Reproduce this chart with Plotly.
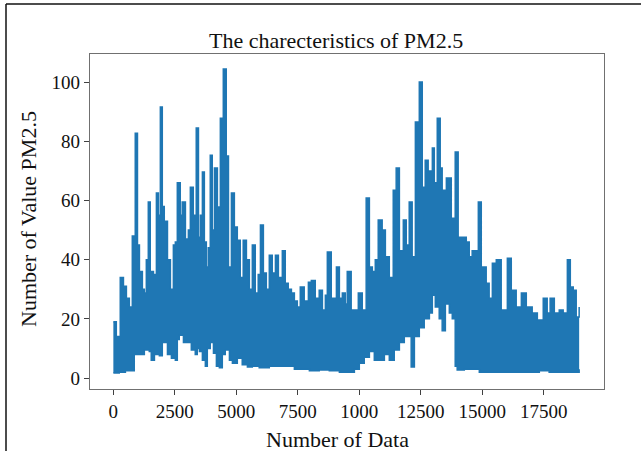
import plotly.graph_objects as go

# Readings from the picture: upper edge (peaks / band top) of the PM2.5 series
upper_idx = [0, 120, 280, 410, 530, 650, 770, 890, 980, 1060, 1180, 1260, 1340, 1420, 1500,
             1630, 1750, 1830, 1910, 1990, 2070, 2200, 2320, 2440, 2520, 2600, 2720, 2800,
             2930, 3050, 3130, 3250, 3370, 3460, 3540, 3620, 3700, 3780, 3860, 3940, 4020,
             4110, 4230, 4350, 4470, 4590, 4680, 4800, 4920, 5040, 5160, 5280, 5410, 5530,
             5650, 5770, 5890, 5980, 6100, 6220, 6340, 6460, 6590, 6710, 6870, 6990, 7110,
             7240, 7360, 7480, 7600, 7760, 7930, 8050, 8210, 8370, 8500, 8620, 8700, 8860,
             9070, 9190, 9310, 9430, 9510, 9670, 9800, 9960, 10120, 10280, 10410, 10530,
             10650, 10770, 10930, 11060, 11220, 11380, 11500, 11630, 11790, 11910, 12030,
             12150, 12280, 12440, 12560, 12680, 12800, 12970, 13050, 13170, 13290, 13370,
             13540, 13740, 13900, 14020, 14190, 14350, 14470, 14590, 14840, 14960, 15160,
             15280, 15410, 15570, 15770, 15890, 16020, 16180, 16380, 16590, 16790, 17030,
             17240, 17480, 17640, 17760, 17930, 18130, 18290, 18460, 18580, 18700, 18820,
             18940]
upper_val = [19, 14, 34, 31, 27, 24, 48, 82.7, 45, 36, 30, 28.7, 40, 59.5, 36,
             35, 62.5, 55, 91.6, 58, 53, 40, 30, 45, 46, 66, 55, 59.5,
             47, 50, 64.5, 55, 84.5, 47.6, 55, 69.6, 46, 37.5, 44, 75.3, 50,
             71, 57.8, 87.8, 104.4, 75, 37.5, 62.5, 51, 46.6, 34, 46.6, 40, 30,
             45, 28.7, 35, 51.7, 35.5, 30, 41.5, 35.5, 41.5, 34, 43, 32, 30,
             28.7, 26, 24, 30.8, 26, 32.4, 33, 27, 29.7, 23, 28, 42.6, 27,
             37.5, 27, 28.7, 25, 36, 23, 23, 28.7, 23, 60.8, 37.5, 36,
             40, 53.4, 50, 41, 34, 63.5, 71, 43, 53.4, 45, 59.5,
             41, 86.5, 100, 64.5, 73.6, 70, 77.7, 66, 87.8, 71, 63.5,
             67.6, 54, 76.4, 47.6, 47.6, 46, 41, 43, 59.5, 37.5, 32,
             27, 38.8, 40, 23, 23, 40.5, 29.7, 24, 28.7, 24, 22,
             19.6, 27, 22, 27, 22, 23, 22, 40, 30.8, 29.7, 20.6,
             24]

# Readings from the picture: lower edge (troughs) of the series
lower_idx = [0, 240, 490, 730, 850, 1060, 1260, 1460, 1540, 1670, 1870, 1990, 2200, 2360,
             2520, 2600, 2680, 2850, 3010, 3170, 3330, 3410, 3500, 3620, 3740, 3820, 3940,
             4070, 4190, 4310, 4430, 4550, 4720, 4840, 5040, 5240, 5450, 5650, 5930, 6340,
             6750, 7150, 7360, 7560, 7970, 8370, 8780, 9190, 9590, 9800, 10000, 10200,
             10410, 10610, 10810, 11020, 11220, 11420, 11630, 11830, 11990, 12110, 12240,
             12440, 12640, 12850, 12970, 13090, 13250, 13370, 13500, 13660, 13780, 13860,
             13900, 13980, 14270, 14470, 14880, 15280, 15690, 16100, 16500, 16910, 17320,
             17720, 18130, 18540, 18860, 18940]
lower_val = [1.7, 2, 2.5, 2.5, 8, 8, 9.5, 9, 6, 8, 7.5, 12, 8, 6.7,
             6, 13, 14.5, 12, 12, 9.5, 8, 10, 9, 6, 4, 10, 12,
             8.4, 4, 3.5, 8, 9.5, 6, 5, 6.7, 4.5, 3.7, 4, 3.5, 4,
             4, 4, 3, 3, 2.5, 2.7, 2.5, 2, 2, 3, 5, 7,
             9, 6, 6, 8, 6, 9.5, 12, 14, 14, 3.7, 14,
             17, 20, 22, 28, 24, 20, 16, 25, 22, 20, 22,
             4, 2.7, 3, 3, 2, 2, 2, 2, 2, 2, 2.5,
             2, 2, 2, 2, 3]

x_ticks = [0, 2500, 5000, 7500, 10000, 12500, 15000, 17500]
x_ticktext = ["0", "2500", "5000", "7500", "1000", "12500", "15000", "17500"]
y_ticks = [0, 20, 40, 60, 80, 100]

BLUE = "#1f77b4"
FONT = "Liberation Serif"

fig = go.Figure()
fig.add_trace(go.Scatter(x=lower_idx, y=lower_val, mode="lines",
                         line=dict(color=BLUE, width=1.5, shape="hv"), showlegend=False,
                         hoverinfo="skip"))
fig.add_trace(go.Scatter(x=upper_idx, y=upper_val, mode="lines",
                         line=dict(color=BLUE, width=1.5, shape="hv"), fill="tonexty",
                         fillcolor=BLUE, showlegend=False, name="PM2.5"))

axis_common = dict(showline=True, linecolor="#707070", linewidth=1.2, mirror=True,
                   ticks="outside", ticklen=5, tickcolor="#404040", tickwidth=1,
                   showgrid=False, zeroline=False,
                   tickfont=dict(family=FONT, size=19, color="#111111"))

fig.update_layout(
    width=641, height=451,
    margin=dict(l=90, r=37, t=54, b=62),
    paper_bgcolor="white", plot_bgcolor="white",
    xaxis=dict(range=[-950, 19950], tickvals=x_ticks, ticktext=x_ticktext, **axis_common),
    yaxis=dict(range=[-3.7, 109.5], tickvals=y_ticks, **axis_common),
    annotations=[
        dict(text="The charecteristics of PM2.5", xref="paper", yref="paper",
             x=0.479, y=(389 - 41) / 335, xanchor="center", yanchor="middle",
             showarrow=False, font=dict(family=FONT, size=22, color="#111111")),
        dict(text="Number of Data", xref="paper", yref="paper",
             x=(337 - 90) / 514, y=(389 - 439) / 335, xanchor="center", yanchor="middle",
             showarrow=False, font=dict(family=FONT, size=22, color="#111111")),
        dict(text="Number of Value PM2.5", xref="paper", yref="paper",
             x=(28 - 90) / 514, y=(389 - 219) / 335, xanchor="center", yanchor="middle",
             textangle=-90, showarrow=False,
             font=dict(family=FONT, size=22, color="#111111")),
    ],
    shapes=[
        dict(type="line", xref="paper", yref="paper",
             x0=(6 - 90) / 514, x1=(645 - 90) / 514,
             y0=(389 - 4) / 335, y1=(389 - 4) / 335,
             line=dict(color="#111111", width=1.5)),
        dict(type="line", xref="paper", yref="paper",
             x0=(6 - 90) / 514, x1=(6 - 90) / 514,
             y0=(389 - 4) / 335, y1=(389 - 455) / 335,
             line=dict(color="#111111", width=1.5)),
    ],
)

fig.write_html("out.html",
               config={"displayModeBar": False},
               post_script="document.body.style.margin='0px';"
                           "document.body.style.overflow='hidden';")
